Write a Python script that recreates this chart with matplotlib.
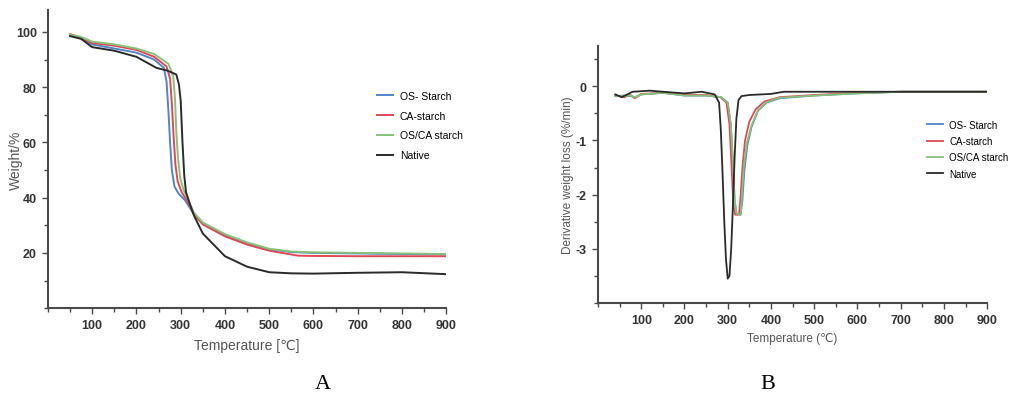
import matplotlib
matplotlib.use('Agg')
import matplotlib.pyplot as plt
from matplotlib.ticker import MultipleLocator

plt.rcParams['font.family'] = ['Liberation Sans', 'DejaVu Sans']

# ---- Panel A: TGA (weight %) ----
tga_T = {
    'OS- Starch':   [50, 75, 100, 150, 200, 240, 262, 268, 272, 276, 280, 286, 295, 310, 330, 350, 400, 450, 500, 550, 600, 700, 800, 900],
    'CA-starch':    [50, 75, 100, 150, 200, 240, 268, 276, 280, 284, 288, 293, 302, 314, 330, 350, 400, 450, 500, 565, 600, 700, 800, 900],
    'OS/CA starch': [50, 75, 100, 150, 200, 240, 272, 283, 287, 290, 294, 299, 307, 316, 330, 350, 400, 450, 500, 550, 600, 700, 800, 900],
    'Native':       [50, 75, 100, 150, 200, 245, 270, 290, 296, 300, 304, 308, 312, 320, 330, 350, 400, 450, 500, 550, 600, 700, 800, 900],
}
tga_W = {
    'OS- Starch':   [98.8, 97.8, 95.5, 94.0, 92.5, 90.0, 87.0, 82.0, 72.0, 60.0, 50.0, 44.0, 41.5, 39.0, 34.0, 30.5, 26.5, 23.5, 21.3, 20.3, 20.0, 19.8, 19.6, 19.5],
    'CA-starch':    [99.2, 98.0, 96.0, 95.0, 93.5, 91.0, 87.5, 83.0, 74.0, 62.0, 52.0, 46.0, 42.0, 39.0, 34.0, 30.3, 26.0, 23.0, 20.8, 19.0, 18.9, 18.8, 18.8, 18.8],
    'OS/CA starch': [99.0, 98.2, 96.5, 95.5, 94.0, 92.0, 88.5, 84.0, 76.0, 64.0, 54.0, 47.0, 42.5, 39.5, 34.5, 31.0, 26.8, 23.8, 21.5, 20.5, 20.2, 20.0, 19.8, 19.6],
    'Native':       [98.5, 97.5, 94.5, 93.2, 91.0, 87.0, 86.0, 84.6, 81.0, 75.0, 60.0, 48.0, 42.0, 38.0, 33.5, 27.0, 18.8, 15.0, 13.0, 12.6, 12.5, 12.8, 13.0, 12.3],
}

# ---- Panel B: DTG (%/min) ----
dtg_T = {
    'OS- Starch':   [40, 60, 75, 85, 100, 150, 200, 250, 285, 300, 307, 312, 316, 320, 330, 334, 338, 345, 355, 370, 390, 420, 500, 600, 700, 900],
    'CA-starch':    [40, 60, 75, 85, 100, 150, 200, 250, 283, 297, 304, 309, 313, 317, 326, 330, 334, 340, 350, 365, 385, 420, 500, 600, 700, 900],
    'OS/CA starch': [40, 60, 75, 85, 100, 150, 200, 250, 285, 300, 307, 312, 316, 320, 330, 333, 337, 344, 355, 370, 390, 420, 500, 600, 700, 900],
    'Native':       [40, 55, 65, 80, 100, 120, 150, 200, 240, 270, 280, 284, 288, 292, 296, 300, 304, 308, 312, 316, 320, 325, 332, 350, 400, 430, 500, 700, 900],
}
dtg_D = {
    'OS- Starch':   [-0.18, -0.17, -0.18, -0.2, -0.15, -0.12, -0.17, -0.17, -0.2, -0.3, -0.7, -1.4, -2.1, -2.35, -2.37, -2.1, -1.6, -1.1, -0.75, -0.45, -0.3, -0.22, -0.17, -0.13, -0.1, -0.1],
    'CA-starch':    [-0.17, -0.2, -0.16, -0.22, -0.14, -0.12, -0.16, -0.16, -0.2, -0.3, -0.7, -1.5, -2.2, -2.37, -2.37, -2.0, -1.5, -1.0, -0.65, -0.42, -0.28, -0.2, -0.16, -0.12, -0.1, -0.1],
    'OS/CA starch': [-0.18, -0.18, -0.17, -0.2, -0.15, -0.12, -0.17, -0.17, -0.2, -0.3, -0.7, -1.4, -2.1, -2.35, -2.37, -2.0, -1.5, -1.05, -0.72, -0.44, -0.29, -0.21, -0.17, -0.13, -0.1, -0.1],
    'Native':       [-0.15, -0.2, -0.16, -0.1, -0.09, -0.08, -0.1, -0.13, -0.1, -0.15, -0.3, -0.8, -1.6, -2.5, -3.2, -3.55, -3.5, -3.0, -2.2, -1.3, -0.6, -0.25, -0.18, -0.16, -0.14, -0.1, -0.1, -0.1, -0.1],
}

series = ['OS- Starch', 'CA-starch', 'OS/CA starch', 'Native']
colors = {'OS- Starch': '#4f86c6', 'CA-starch': '#e04855', 'OS/CA starch': '#86c27a', 'Native': '#2a2a2a'}

fig = plt.figure(figsize=(10.16, 4.02), dpi=100)
axA = fig.add_axes([0.0472, 0.231, 0.392, 0.742])
axB = fig.add_axes([0.5886, 0.2438, 0.383, 0.640])

spine_col = '#4a4a4a'


def style_axes(ax, size):
    for s in ['top', 'right']:
        ax.spines[s].set_visible(False)
    for s in ['left', 'bottom']:
        ax.spines[s].set_color(spine_col)
        ax.spines[s].set_linewidth(1.5)
    ax.tick_params(which='both', direction='out', color=spine_col, width=1.0)
    ax.tick_params(which='major', length=4, pad=4)
    ax.tick_params(which='minor', length=3)
    for lab in ax.get_xticklabels() + ax.get_yticklabels():
        lab.set_fontsize(size)
        lab.set_fontweight('bold')
        lab.set_color('#333333')


# Panel A
for name in series:
    axA.plot(tga_T[name], tga_W[name], color=colors[name], lw=1.4)
axA.set_xlim(0, 900)
axA.set_ylim(0, 108)
axA.set_xticks(range(100, 1000, 100))
axA.set_yticks(range(20, 120, 20))
axA.xaxis.set_minor_locator(MultipleLocator(50))
axA.yaxis.set_minor_locator(MultipleLocator(10))
style_axes(axA, 9)
axA.set_xlabel('Temperature [\u2103]', fontsize=10, color='#555555', labelpad=5)
axA.set_ylabel('Weight/%', fontsize=10, color='#555555')
axA.yaxis.set_label_coords(-0.062, 0.5)
axA.legend(series, loc='upper left', bbox_to_anchor=(0.815, 0.743), frameon=False,
           fontsize=7.5, handlelength=1.6, handletextpad=0.6, labelspacing=0.95,
           borderaxespad=0)

# Panel B
for name in series:
    axB.plot(dtg_T[name], dtg_D[name], color=colors[name], lw=1.3)
axB.set_xlim(0, 900)
axB.set_ylim(-4, 0.75)
axB.set_xticks(range(100, 1000, 100))
axB.xaxis.set_minor_locator(MultipleLocator(50))
axB.set_yticks([-3, -2, -1, 0])
axB.set_yticklabels(['-3', '-2', '-1', '0'])
axB.yaxis.set_minor_locator(MultipleLocator(0.5))
style_axes(axB, 9)
axB.set_xlabel('Temperature (\u2103)', fontsize=8.5, color='#555555', labelpad=4)
axB.set_ylabel('Derivative weight loss (%/min)', fontsize=8.5, color='#555555')
axB.yaxis.set_label_coords(-0.062, 0.5)
axB.legend(series, loc='upper left', bbox_to_anchor=(0.835, 0.727), frameon=False,
           fontsize=7, handlelength=1.7, handletextpad=0.6, labelspacing=0.65,
           borderaxespad=0)

fig.text(0.318, 0.043, 'A', fontsize=16, family='Liberation Serif', ha='center', va='center')
fig.text(0.756, 0.043, 'B', fontsize=16, family='Liberation Serif', ha='center', va='center')

fig.savefig('out.png', dpi=100)
